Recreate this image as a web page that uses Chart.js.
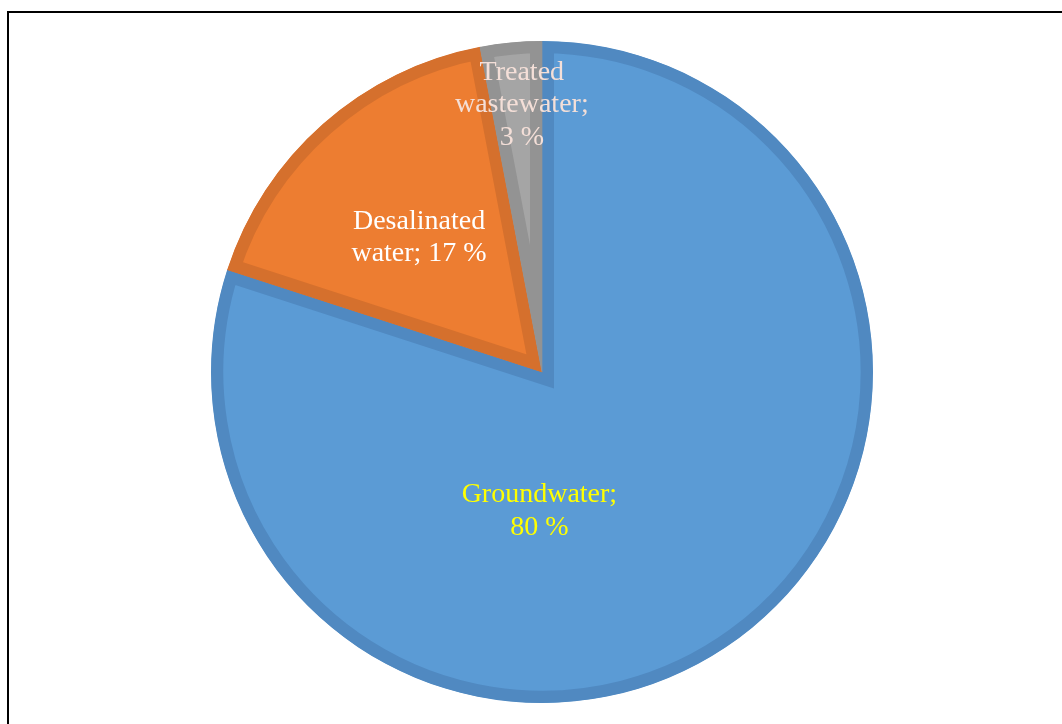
<!DOCTYPE html>
<html>
<head>
<meta charset="utf-8">
<script src="https://cdn.jsdelivr.net/npm/chart.js@4/dist/chart.umd.min.js"></script>
<style>
  html, body { margin: 0; padding: 0; background: #fff; overflow: hidden; }
  #wrap { position: relative; width: 1062px; height: 724px; }
  .frame { position: absolute; left: 7px; top: 11px; width: 1100px; height: 800px;
           border-left: 2px solid #000; border-top: 2px solid #000; }
  #pie { position: absolute; left: 0; top: 0; }
</style>
</head>
<body>
<div id="wrap">
  <div class="frame"></div>
  <canvas id="pie" width="1062" height="724"></canvas>
</div>
<script>
// water supply sources, share of total (%)
const sources  = ['Groundwater', 'Desalinated water', 'Treated wastewater'];
const shares   = [80, 17, 3];
const labelTxt = [['Groundwater;', '80 %'], ['Desalinated', 'water; 17 %'], ['Treated', 'wastewater;', '3 %']];

const fills   = ['#5B9BD5', '#ED7D31', '#A5A5A5'];
const edges   = ['#5089C1', '#D5702D', '#939393'];
const inkCols = ['#FFFF00', '#FFFFFF', '#F4DFD8'];

// where each label sits: turn = fraction of the circle clockwise from 12 o'clock
// (null -> slice middle), r = fraction of the outer radius
const labelAt = [{ turn: 0.503, r: 0.42 }, { turn: 0.882, r: 0.55 }, { turn: 0.988, r: 0.81 }];

const sliceLabels = {
  id: 'sliceLabels',
  afterDatasetsDraw(chart) {
    const { ctx } = chart;
    const arcs = chart.getDatasetMeta(0).data;
    ctx.save();
    ctx.font = '28px "Liberation Serif", "Times New Roman", serif';
    ctx.textAlign = 'center';
    ctx.textBaseline = 'middle';
    arcs.forEach((arc, i) => {
      const p = arc.getProps(['x', 'y', 'startAngle', 'endAngle', 'outerRadius'], true);
      const place = labelAt[i];
      const ang = place.turn == null
        ? (p.startAngle + p.endAngle) / 2
        : place.turn * Math.PI * 2 - Math.PI / 2;
      const cx = p.x + Math.cos(ang) * p.outerRadius * place.r;
      const cy = p.y + Math.sin(ang) * p.outerRadius * place.r;
      const lines = labelTxt[i];
      const lh = 32.5;
      ctx.fillStyle = inkCols[i];
      lines.forEach((ln, k) => {
        ctx.fillText(ln, cx, cy + (k - (lines.length - 1) / 2) * lh);
      });
    });
    ctx.restore();
  }
};

new Chart(document.getElementById('pie'), {
  type: 'pie',
  data: {
    labels: sources,
    datasets: [{
      data: shares,
      backgroundColor: fills,
      borderColor: edges,
      borderWidth: 12,
      borderAlign: 'inner',
      borderJoinStyle: 'miter',
      hoverOffset: 0,
    }]
  },
  options: {
    responsive: false,
    animation: false,
    events: [],
    layout: { padding: { left: 211, right: 189, top: 41, bottom: 21 } },
    plugins: { legend: { display: false }, tooltip: { enabled: false } },
  },
  plugins: [sliceLabels]
});
</script>
</body>
</html>
